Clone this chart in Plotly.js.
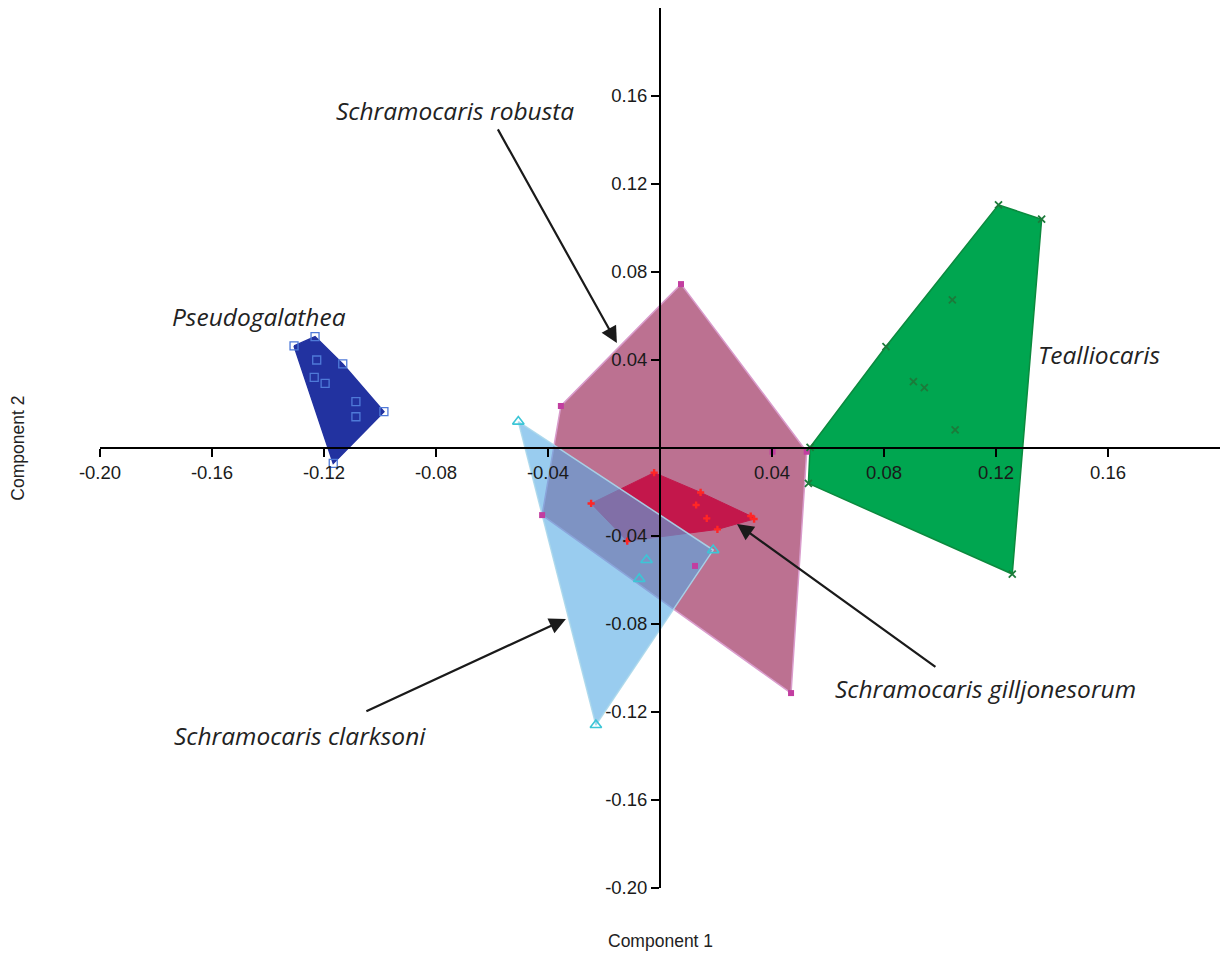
<!DOCTYPE html>
<html>
<head>
<meta charset="utf-8">
<script src="https://cdn.plot.ly/plotly-3.0.1.min.js"></script>
<style>html,body{margin:0;padding:0;background:#fff;}#chart{width:1223px;height:953px;}</style>
</head>
<body>
<div id="chart"></div>
<script>
// ---- Data (Component 1, Component 2) ----
const pseudogalatheaX = [-0.1307, -0.1232, -0.1133, -0.0986, -0.1167, -0.1226, -0.1235, -0.1196, -0.1086, -0.1086];
const pseudogalatheaY = [0.0464, 0.0506, 0.0382, 0.0165, -0.0070, 0.0400, 0.0321, 0.0294, 0.0211, 0.0142];

const robustaX = [0.0075, -0.0354, 0.0524, 0.0468, -0.0421, 0.0125, 0.0402];
const robustaY = [0.0745, 0.0191, -0.0017, -0.1114, -0.0305, -0.0536, -0.0017];

const gilljonesorumX = [-0.0021, 0.0145, 0.0129, 0.0167, 0.0205, 0.0324, 0.0336, -0.0246, -0.0117];
const gilljonesorumY = [-0.0112, -0.0202, -0.0259, -0.0320, -0.0370, -0.0309, -0.0323, -0.0252, -0.0423];

const clarksoniX = [-0.0506, 0.0190, -0.0229, -0.0048, -0.0074];
const clarksoniY = [0.0120, -0.0464, -0.1259, -0.0509, -0.0595];

const tealliocarisX = [0.1209, 0.1363, 0.0807, 0.1044, 0.0905, 0.0944, 0.1054, 0.0530, 0.1258, 0.0536];
const tealliocarisY = [0.1105, 0.1040, 0.0461, 0.0673, 0.0302, 0.0274, 0.0082, -0.0161, -0.0573, 0.0003];

const tickVals = [-0.20, -0.16, -0.12, -0.08, -0.04, 0.04, 0.08, 0.12, 0.16];
const tickText = ["-0.20", "-0.16", "-0.12", "-0.08", "-0.04", "0.04", "0.08", "0.12", "0.16"];

// ---- Convex hull (monotone chain) ----
function hull(xs, ys) {
  const p = xs.map((x, i) => [x, ys[i]]).sort((a, b) => a[0] - b[0] || a[1] - b[1]);
  const cross = (o, a, b) => (a[0]-o[0])*(b[1]-o[1]) - (a[1]-o[1])*(b[0]-o[0]);
  const lower = [];
  for (const q of p) { while (lower.length >= 2 && cross(lower[lower.length-2], lower[lower.length-1], q) <= 0) lower.pop(); lower.push(q); }
  const upper = [];
  for (let i = p.length - 1; i >= 0; i--) { const q = p[i]; while (upper.length >= 2 && cross(upper[upper.length-2], upper[upper.length-1], q) <= 0) upper.pop(); upper.push(q); }
  upper.pop(); lower.pop();
  const h = lower.concat(upper);
  h.push(h[0]);
  return {x: h.map(v => v[0]), y: h.map(v => v[1])};
}

function poly(xs, ys, fill, line, lw) {
  const h = hull(xs, ys);
  return {x: h.x, y: h.y, type: 'scatter', mode: 'lines', fill: 'toself',
          fillcolor: fill, line: {color: line, width: lw}, hoverinfo: 'skip', showlegend: false};
}
function pts(xs, ys, symbol, size, color, lw) {
  return {x: xs, y: ys, type: 'scatter', mode: 'markers', showlegend: false,
          marker: {symbol: symbol, size: size, color: color, line: {color: color, width: lw}}};
}

const traces = [
  poly(pseudogalatheaX, pseudogalatheaY, '#2232a0', '#2232a0', 1.5),
  poly(robustaX, robustaY, '#bc7191', '#d99ccc', 1.5),
  poly(gilljonesorumX, gilljonesorumY, '#c3174b', '#c3174b', 1),
  poly(tealliocarisX, tealliocarisY, '#00a650', '#0b8a3e', 1.5),
  poly(clarksoniX, clarksoniY, 'rgba(85,170,228,0.6)', 'rgba(170,215,235,0.9)', 1.5),
  pts(pseudogalatheaX, pseudogalatheaY, 'square-open', 8, '#4f7ad8', 1.3),
  pts(robustaX, robustaY, 'square', 6, '#c23ea0', 0),
  pts(gilljonesorumX, gilljonesorumY, 'cross', 6, '#ff2626', 0),
  pts(tealliocarisX, tealliocarisY, 'x-thin-open', 7, '#1c7a3a', 1.8),
  pts(clarksoniX, clarksoniY, 'triangle-up-open', 10, '#3cc6d6', 1.6)
];

const labelFont = {family: 'Open Sans, Noto Sans, sans-serif', size: 24.5, color: '#222', style: 'italic'};
const annotations = [
  {x: -0.1432, y: 0.0600, text: 'Pseudogalathea', showarrow: false, font: labelFont},
  {x: -0.0732, y: 0.1536, text: 'Schramocaris robusta', showarrow: false, font: labelFont},
  {x: 0.1568, y: 0.0423, text: 'Tealliocaris', showarrow: false, font: labelFont},
  {x: 0.1161, y: -0.1091, text: 'Schramocaris gilljonesorum', showarrow: false, font: labelFont},
  {x: -0.1286, y: -0.1305, text: 'Schramocaris clarksoni', showarrow: false, font: labelFont},
  {x: -0.0154, y: 0.0477, ax: -0.0582, ay: 0.1455, axref: 'x', ayref: 'y', text: '', showarrow: true, arrowhead: 2, arrowsize: 1.5, arrowwidth: 2.2, arrowcolor: '#1a1a1a'},
  {x: 0.0275, y: -0.0345, ax: 0.0989, ay: -0.1000, axref: 'x', ayref: 'y', text: '', showarrow: true, arrowhead: 2, arrowsize: 1.5, arrowwidth: 2.2, arrowcolor: '#1a1a1a'},
  {x: -0.0336, y: -0.0777, ax: -0.1054, ay: -0.1200, axref: 'x', ayref: 'y', text: '', showarrow: true, arrowhead: 2, arrowsize: 1.5, arrowwidth: 2.2, arrowcolor: '#1a1a1a'},
  {xref: 'paper', yref: 'paper', x: 0.5, y: -0.060, text: 'Component 1', showarrow: false, yanchor: 'middle',
   font: {family: 'Liberation Sans, Arial, sans-serif', size: 17.5, color: '#222'}},
  {xref: 'paper', yref: 'paper', x: -0.0735, y: 0.5, text: 'Component 2', textangle: -90, showarrow: false, xanchor: 'center',
   font: {family: 'Liberation Sans, Arial, sans-serif', size: 17.5, color: '#222'}}
];

const axisCommon = {
  showgrid: false, zeroline: false, showline: true, linecolor: '#000', linewidth: 2,
  ticks: 'outside', ticklen: 8, tickwidth: 2, tickcolor: '#000',
  tickvals: tickVals, ticktext: tickText, anchor: 'free', position: 0.5,
  tickfont: {family: 'Liberation Sans, Arial, sans-serif', size: 18.5, color: '#1a1a1a'},
  layer: 'above traces', fixedrange: true
};

const layout = {
  width: 1223, height: 953,
  margin: {l: 100, r: 3, t: 8, b: 65},
  paper_bgcolor: '#fff', plot_bgcolor: '#fff',
  xaxis: Object.assign({}, axisCommon, {range: [-0.2, 0.2]}),
  yaxis: Object.assign({}, axisCommon, {range: [-0.2, 0.2]}),
  annotations: annotations,
  showlegend: false
};

Plotly.newPlot('chart', traces, layout, {displayModeBar: false, staticPlot: true});
</script>
</body>
</html>
